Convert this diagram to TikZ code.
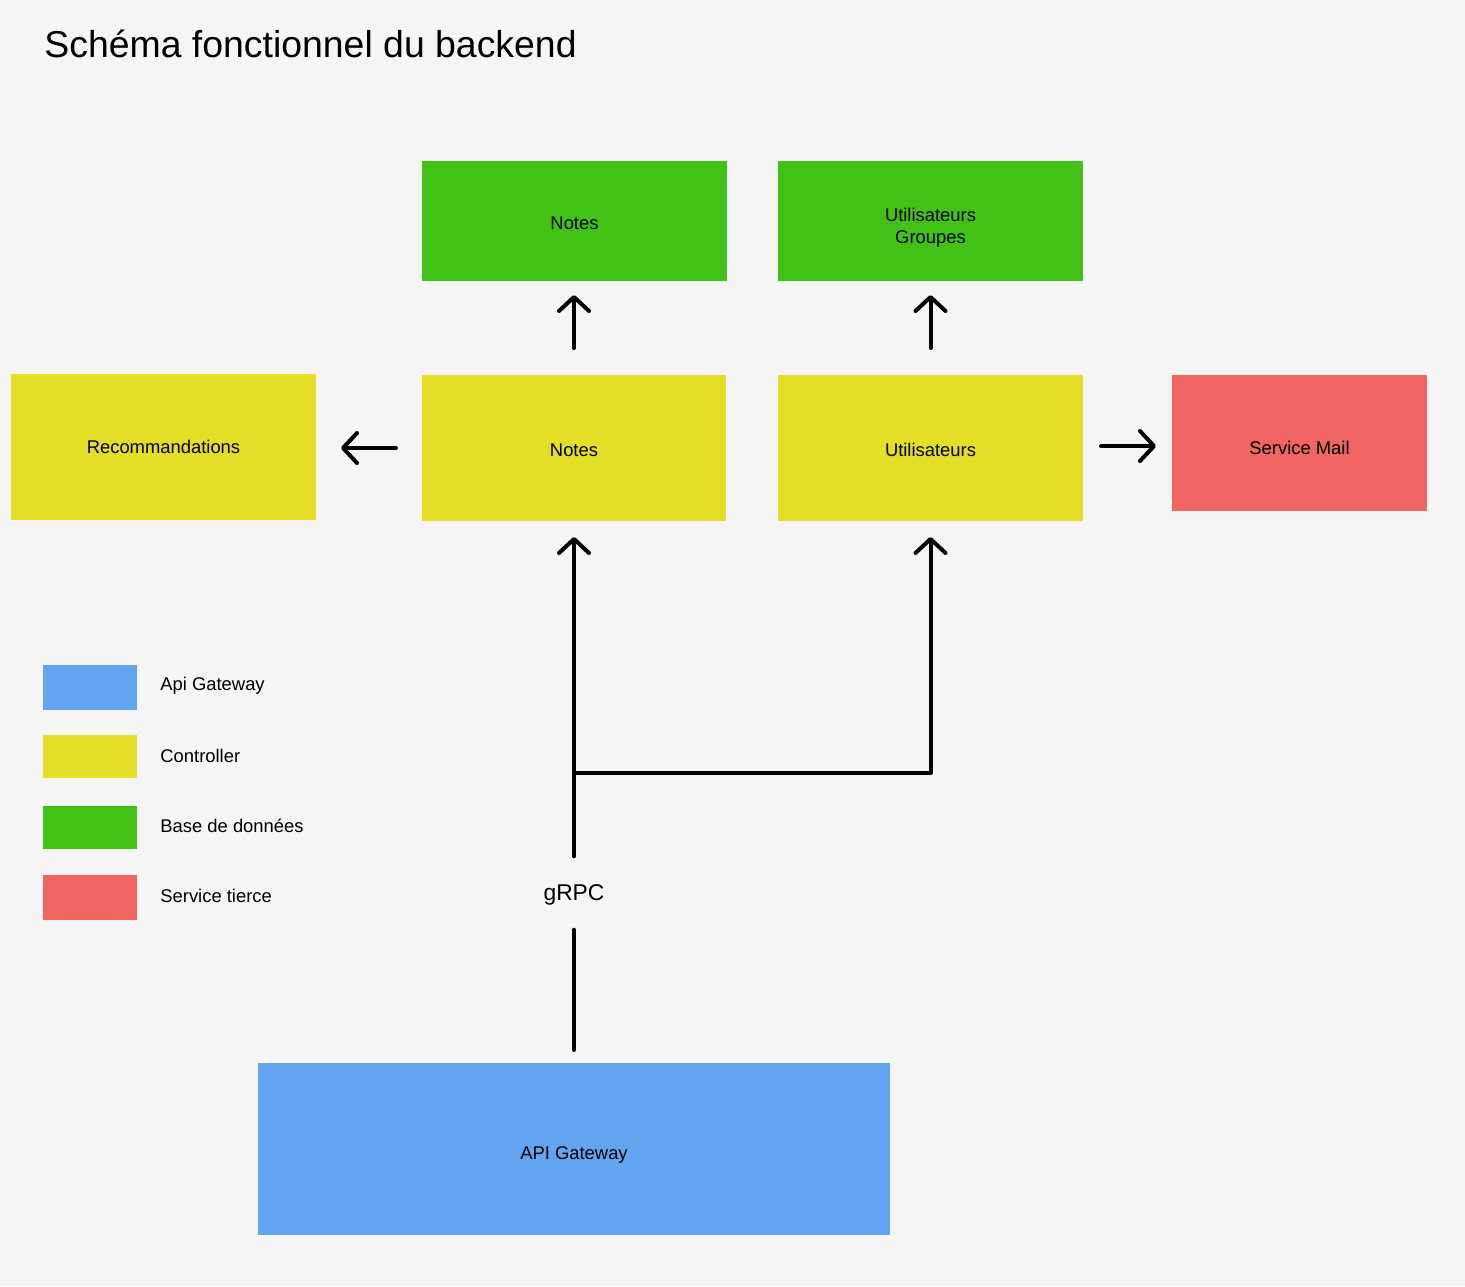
\documentclass[tikz,border=0pt]{standalone}
\usepackage{fontspec}
\setmainfont{Liberation Sans}
\usetikzlibrary{arrows.meta}
\definecolor{bg}{HTML}{F5F5F5}
\definecolor{dbgreen}{HTML}{42C117}
\definecolor{ctrlyellow}{HTML}{E4DE26}
\definecolor{thirdred}{HTML}{F06462}
\definecolor{gwblue}{HTML}{62A4F0}
\tikzset{
  box/.style={anchor=north west, inner sep=0pt, outer sep=0pt, align=center,
    font=\fontsize{9.2pt}{11pt}\selectfont},
  legsq/.style={anchor=north west, inner sep=0pt, outer sep=0pt, minimum width=47pt},
  leglab/.style={anchor=west, inner sep=0pt, font=\fontsize{9.2pt}{11pt}\selectfont},
  conn/.style={line width=2pt, line cap=round, line join=round},
  arr/.style={conn, -{Straight Barb[length=7pt, width=15pt, line width=2pt, round]}},
}
\begin{document}
\begin{tikzpicture}[x=0.5pt, y=-0.5pt]
\fill[bg] (0,0) rectangle (1465,1286);
\useasboundingbox (0,0) rectangle (1465,1286);

\node[anchor=base west, inner sep=0pt, font=\fontsize{18.7pt}{22pt}\selectfont] (title) at (44,57) {Schéma fonctionnel du backend};

% databases
\node[box, fill=dbgreen, minimum width=152.5pt, minimum height=60pt, text height=8.7pt, text depth=0pt] (gnotes) at (422,161) {Notes};
\node[box, fill=dbgreen, minimum width=152.5pt, minimum height=60pt, text height=22.5pt, text depth=0pt] (gutil) at (778,161) {Utilisateurs\\Groupes};

% controllers
\node[box, fill=ctrlyellow, minimum width=152.5pt, minimum height=73pt] (yreco) at (11,374) {Recommandations};
\node[box, fill=ctrlyellow, minimum width=152pt, minimum height=73pt, text height=8.7pt, text depth=0pt] (ynotes) at (422,375) {Notes};
\node[box, fill=ctrlyellow, minimum width=152.5pt, minimum height=73pt, text height=8.7pt, text depth=0pt] (yutil) at (778,375) {Utilisateurs};

% third party
\node[box, fill=thirdred, minimum width=127.5pt, minimum height=68pt, text height=11.7pt, text depth=0pt] (mail) at (1172,375) {Service Mail};

% gateway
\node[box, fill=gwblue, minimum width=316pt, minimum height=86pt, text height=10.7pt, text depth=0pt] (api) at (258,1063) {API Gateway};

% gRPC label
\node[inner sep=0pt, font=\fontsize{11.4pt}{13pt}\selectfont] (grpc) at (574,895) {gRPC};
\coordinate (junc) at (574,773);

% connectors
\draw[arr, shorten <=13.5pt, shorten >=7pt] (ynotes.north) -- (gnotes.south -| ynotes.north);
\draw[arr, shorten <=13.5pt, shorten >=7pt] (yutil.north) -- (gutil.south);
\draw[arr, shorten <=13pt, shorten >=12.5pt] (ynotes.west) -- (yreco.east |- ynotes.west);
\draw[arr, shorten <=9pt, shorten >=8pt] ([yshift=1pt]yutil.east) -- ([yshift=1pt]mail.west |- yutil.east);
\draw[conn, shorten <=6.5pt, shorten >=12pt] (api.north) -- (api.north |- grpc.south);
\draw[arr, shorten <=14pt, shorten >=8pt] (grpc.north) -- (ynotes.south);
\draw[arr, shorten >=8pt] (junc) -| (yutil.south);

% legend
\node[legsq, fill=gwblue, minimum height=22.5pt] (lblue) at (43,665) {};
\node[legsq, fill=ctrlyellow, minimum height=21.5pt] (lyellow) at (43,735) {};
\node[legsq, fill=dbgreen, minimum height=21.5pt] (lgreen) at (43,806) {};
\node[legsq, fill=thirdred, minimum height=22.5pt] (lred) at (43,875) {};
\node[leglab] (tblue) at (160,686) {Api Gateway};
\node[leglab] (tyellow) at (160,756) {Controller};
\node[leglab] (tgreen) at (160,826) {Base de données};
\node[leglab] (tred) at (160,896) {Service tierce};
\end{tikzpicture}
\end{document}
